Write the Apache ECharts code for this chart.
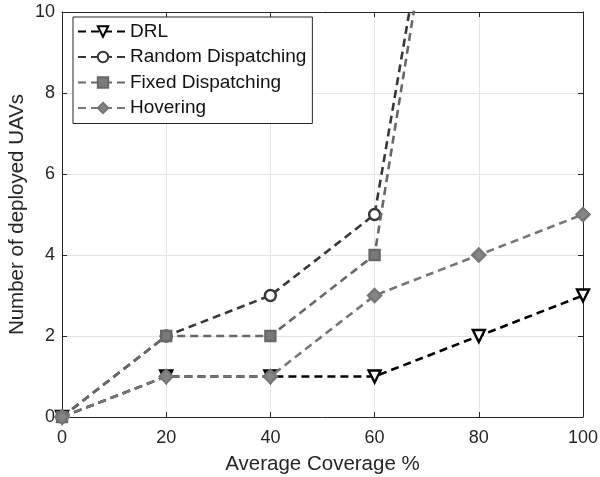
<!DOCTYPE html>
<html>
<head>
<meta charset="utf-8">
<script src="https://cdn.jsdelivr.net/npm/echarts@6/dist/echarts.min.js"></script>
<style>
  html, body { margin: 0; padding: 0; background: #fff; }
  #chart { width: 600px; height: 477px; }
</style>
</head>
<body>
<div id="chart"></div>
<script>
// Coverage levels on the x axis (%)
const coverage = [0, 20, 40, 60, 80, 100];

// Number of deployed UAVs per strategy
const drl = [0, 1, 1, 1, 2, 3];
const randomDispatching = [0, 2, 3, 5, 20];
const fixedDispatching = [0, 2, 2, 4, 20];
const hovering = [0, 1, 1, 3, 4, 5];

const seriesNames = ['DRL', 'Random Dispatching', 'Fixed Dispatching', 'Hovering'];

const xTicks = [0, 20, 40, 60, 80, 100];
const yTicks = [0, 2, 4, 6, 8, 10];

const FONT = 'Liberation Sans, Arial, Helvetica, sans-serif';
const AXIS_COLOR = '#262626';

function pairs(values) {
  return values.map((v, i) => [coverage[i], v]);
}

function lineSeries(name, values, color, symbol, symbolSize, fill, extra) {
  return Object.assign({
    name: name,
    type: 'line',
    data: pairs(values),
    symbol: symbol,
    symbolSize: symbolSize,
    showAllSymbol: true,
    clip: true,
    lineStyle: { color: color, width: 2.6, type: [8, 5] },
    itemStyle: { color: fill, borderColor: color, borderWidth: 2.4 },
    emphasis: { disabled: true },
    animation: false
  }, extra || {});
}

const chart = echarts.init(document.getElementById('chart'), null, { renderer: 'canvas' });

const axisCommon = {
  type: 'value',
  axisLine: { show: true, onZero: false, lineStyle: { color: AXIS_COLOR, width: 1 } },
  axisTick: { show: true, inside: true, length: 5, lineStyle: { color: AXIS_COLOR } },
  splitLine: { show: false }
};

chart.setOption({
  backgroundColor: '#fff',
  animation: false,
  textStyle: { fontFamily: FONT },
  grid: { left: 62, right: 17, top: 12, bottom: 60, containLabel: false, outerBoundsMode: 'none' },
  legend: {
    data: seriesNames,
    orient: 'vertical',
    left: 73,
    top: 17,
    itemWidth: 50,
    itemHeight: 13,
    itemGap: 6.5,
    padding: [5, 6, 6, 4],
    borderColor: AXIS_COLOR,
    borderWidth: 1,
    backgroundColor: '#fff',
    textStyle: { fontFamily: FONT, fontSize: 19, color: '#111', padding: [0, 0, 0, -3] },
    selectedMode: false
  },
  xAxis: [
    Object.assign({}, axisCommon, {
      min: 0, max: 100, interval: 20,
      position: 'bottom',
      name: 'Average Coverage %',
      nameLocation: 'middle',
      nameGap: 37,
      nameMoveOverlap: false,
      nameTextStyle: { fontFamily: FONT, fontSize: 20.5, color: '#262626' },
      axisLabel: { fontFamily: FONT, fontSize: 18, color: '#262626', margin: 12,
        formatter: v => xTicks.includes(v) ? String(v) : '' },
      splitLine: { show: true, lineStyle: { color: '#e3e3e3', width: 1 } }
    }),
    Object.assign({}, axisCommon, {
      min: 0, max: 100, interval: 20,
      position: 'top',
      axisLabel: { show: false }
    })
  ],
  yAxis: [
    Object.assign({}, axisCommon, {
      min: 0, max: 10, interval: 2,
      position: 'left',
      name: 'Number of deployed UAVs',
      nameLocation: 'middle',
      nameGap: 34,
      nameMoveOverlap: false,
      nameRotate: 90,
      nameTextStyle: { fontFamily: FONT, fontSize: 20.5, color: '#262626' },
      axisLabel: { fontFamily: FONT, fontSize: 18, color: '#262626', margin: 7,
        formatter: v => yTicks.includes(v) ? String(v) : '' },
      splitLine: { show: true, lineStyle: { color: '#e3e3e3', width: 1 } }
    }),
    Object.assign({}, axisCommon, {
      min: 0, max: 10, interval: 2,
      position: 'right',
      axisLabel: { show: false }
    })
  ],
  series: [
    lineSeries('DRL', drl, '#000000', 'triangle', 12, '#ffffff', { symbolRotate: 180, z: 2 }),
    lineSeries('Random Dispatching', randomDispatching, '#383838', 'circle', 11, '#ffffff', { z: 3 }),
    lineSeries('Fixed Dispatching', fixedDispatching, '#686868', 'rect', 10, '#7a7a7a', { z: 4 }),
    lineSeries('Hovering', hovering, '#767676', 'diamond', 13, '#858585', { z: 5 })
  ]
});
</script>
</body>
</html>
